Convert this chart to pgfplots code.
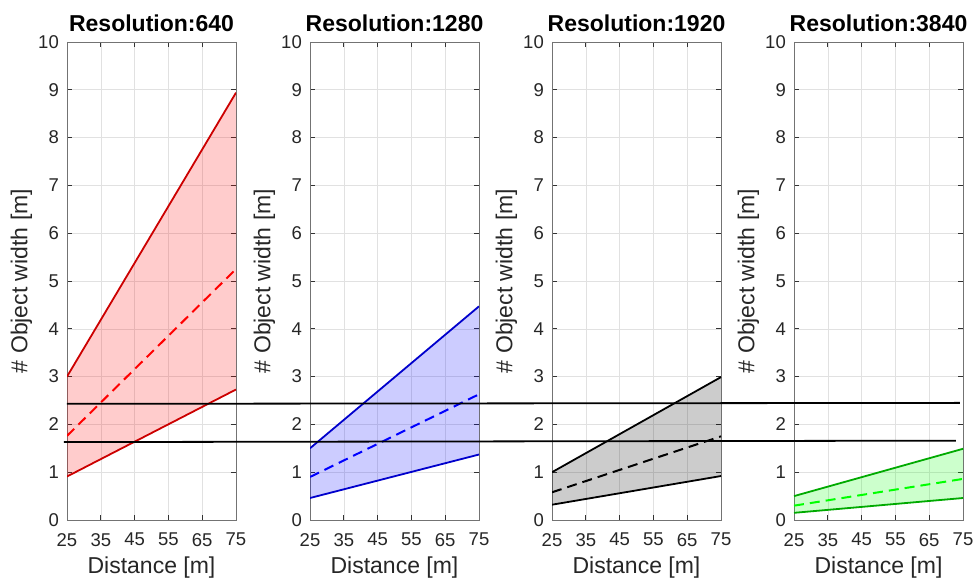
\documentclass[border=0pt]{standalone}
\usepackage{fontspec}
\setmainfont{Liberation Sans}
\usepackage{pgfplots}
\pgfplotsset{compat=1.18}
\definecolor{rline}{RGB}{204,0,0}
\definecolor{rdash}{RGB}{255,0,0}
\definecolor{bline}{RGB}{0,0,204}
\definecolor{bdash}{RGB}{0,0,255}
\definecolor{kline}{RGB}{0,0,0}
\definecolor{gline}{RGB}{0,170,0}
\definecolor{gdash}{RGB}{0,255,0}
\definecolor{gridc}{RGB}{225,225,225}
\definecolor{txt}{RGB}{38,38,38}
\pgfplotsset{
  myax/.style={
    scale only axis, width=169pt, height=478pt,
    anchor=south west,
    xmin=25, xmax=75, ymin=0, ymax=10,
    xtick={25,35,...,75}, ytick={0,1,...,10},
    grid=major, grid style={gridc, line width=0.6pt},
    axis line style={black!55, line width=0.7pt},
    tick style={black!80, line width=0.7pt},
    major tick length=5pt,
    tick align=inside,
    tick pos=both,
    every tick label/.append style={inner sep=0pt, font=\fontsize{18.5}{18.5}\selectfont, text=txt},
    xticklabel style={anchor=north, yshift=-13pt},
    yticklabel style={anchor=east, xshift=-8pt},
    /pgf/number format/assume math mode=true,
    xlabel={Distance [m]},
    ylabel={\# Object width [m]},
    xlabel style={at={(axis description cs:0.5,-0.1)}, anchor=center, font=\fontsize{23}{23}\selectfont, text=txt},
    ylabel style={at={(axis description cs:-0.27,0.5)}, anchor=center, font=\fontsize{23}{23}\selectfont, text=txt},
    title style={at={(axis description cs:0.5,1.0275)}, anchor=center, font=\bfseries\fontsize{23}{23}\selectfont},
    solid/.style={line width=1.8pt},
    dsh/.style={line width=2pt, dash pattern=on 10pt off 6pt},
  }
}
\begin{document}
\begin{tikzpicture}
\path[use as bounding box] (0,0) rectangle (976pt,579pt);
% 640
\begin{axis}[myax, at={(67pt,59pt)}, title={Resolution:640}]
\addplot[draw=none, fill=rdash, fill opacity=0.2] coordinates {(25,0.91) (75,2.73) (75,8.94) (25,3.00)} -- cycle;
\addplot[rline, solid] coordinates {(25,3.00) (75,8.94)};
\addplot[rline, solid] coordinates {(25,0.91) (75,2.73)};
\addplot[rdash, dsh] coordinates {(25,1.76) (75,5.25)};
\end{axis}
% 1280
\begin{axis}[myax, at={(310pt,59pt)}, title={Resolution:1280}]
\addplot[draw=none, fill=bdash, fill opacity=0.2] coordinates {(25,0.46) (75,1.37) (75,4.47) (25,1.50)} -- cycle;
\addplot[bline, solid] coordinates {(25,1.50) (75,4.47)};
\addplot[bline, solid] coordinates {(25,0.46) (75,1.37)};
\addplot[bdash, dsh] coordinates {(25,0.90) (75,2.63)};
\end{axis}
% 1920
\begin{axis}[myax, at={(552pt,59pt)}, title={Resolution:1920}]
\addplot[draw=none, fill=black, fill opacity=0.2] coordinates {(25,0.32) (75,0.92) (75,2.99) (25,1.00)} -- cycle;
\addplot[kline, solid] coordinates {(25,1.00) (75,2.99)};
\addplot[kline, solid] coordinates {(25,0.32) (75,0.92)};
\addplot[kline, dsh] coordinates {(25,0.58) (75,1.75)};
\end{axis}
% 3840
\begin{axis}[myax, at={(794pt,59pt)}, title={Resolution:3840}, clip=false]
\addplot[draw=none, fill=gdash, fill opacity=0.2] coordinates {(25,0.15) (75,0.46) (75,1.49) (25,0.50)} -- cycle;
\addplot[gline, solid] coordinates {(25,0.50) (75,1.49)};
\addplot[gline, solid] coordinates {(25,0.15) (75,0.46)};
\addplot[gdash, dsh] coordinates {(25,0.30) (75,0.86)};
% horizontal reference lines spanning the figure
\addplot[black, line width=1.8pt] coordinates {(-190.1,2.43) (74.1,2.45)};
\addplot[black, line width=1.8pt] coordinates {(-191.0,1.63) (72.9,1.66)};
\end{axis}
\end{tikzpicture}
\end{document}
